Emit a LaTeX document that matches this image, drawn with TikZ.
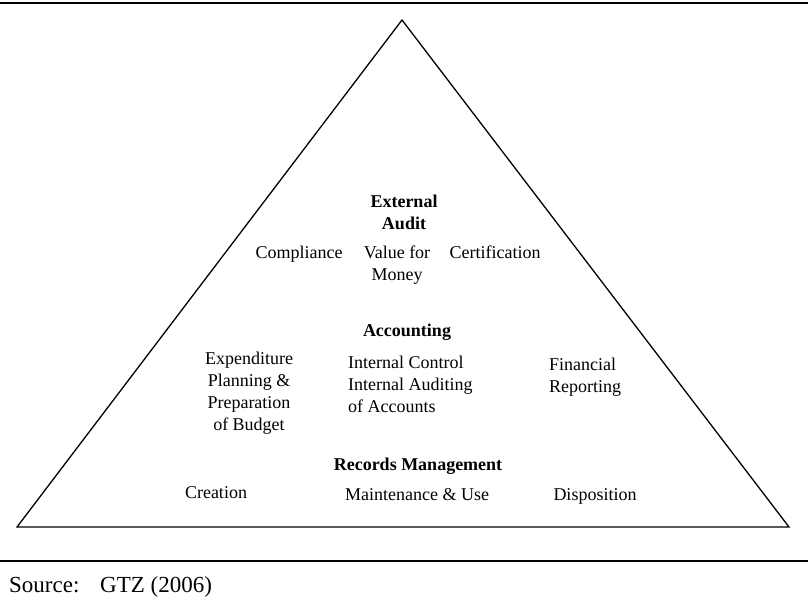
\documentclass[tikz,border=0pt]{standalone}
\usepackage{fontspec}
\setmainfont{Liberation Serif}
\begin{document}
\begin{tikzpicture}[x=1pt,y=-1pt,
  lbl/.style={inner sep=0pt, font=\fontsize{18}{22}\selectfont},
  hdr/.style={lbl, font=\fontsize{18}{22}\selectfont\bfseries},
  rule/.style={line width=2pt},
  tri/.style={line width=1.3pt, line join=miter}]
\useasboundingbox (0,0) rectangle (808,600);
\coordinate (tl) at (0,3);
\coordinate (tr) at (808,3);
\coordinate (bl) at (0,561);
\coordinate (br) at (808,561);
\draw[rule] (tl) -- (tr);
\draw[rule] (bl) -- (br);
\coordinate (apex) at (402,20);
\coordinate (left) at (17,527);
\coordinate (right) at (789,527);
\draw[tri] (apex) -- (left) -- (right) -- cycle;

% multi-line nodes: base anchor = baseline of last line
\node[hdr, align=center, anchor=base] (ea) at (404,229) {External\\Audit};
\node[lbl, anchor=base] (comp) at (299,258) {Compliance};
\node[lbl, align=center, anchor=base] (vfm) at (397,280) {Value for\\Money};
\node[lbl, anchor=base] (cert) at (495,258) {Certification};

\node[hdr, anchor=base] (acc) at (407,336) {Accounting};
\node[lbl, align=center, anchor=base] (exp) at (249,430) {Expenditure\\Planning \&\\Preparation\\of Budget};
\node[lbl, align=left, anchor=base west] (ic) at (348,412) {Internal Control\\Internal Auditing\\of Accounts};
\node[lbl, align=left, anchor=base west] (fr) at (549,392) {Financial\\Reporting};

\node[hdr, anchor=base] (rm) at (418,470) {Records Management};
\node[lbl, anchor=base] (cre) at (216,498) {Creation};
\node[lbl, anchor=base] (mu) at (417,500) {Maintenance \& Use};
\node[lbl, anchor=base] (dis) at (595,500) {Disposition};

\node[inner sep=0pt, font=\fontsize{23}{27}\selectfont, anchor=base west] (src) at (9,592) {\makebox[91pt][l]{Source:}GTZ (2006)};
\end{tikzpicture}
\end{document}
